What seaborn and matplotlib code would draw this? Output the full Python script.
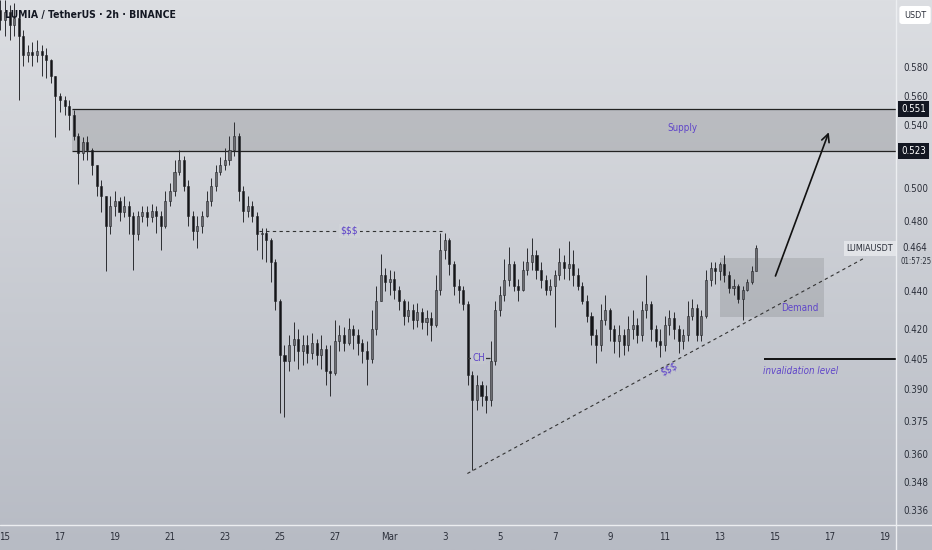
import matplotlib
matplotlib.use("Agg")
import numpy as np
import pandas as pd
import seaborn as sns
import matplotlib.pyplot as plt
import matplotlib.dates as mdates
from matplotlib.colors import LinearSegmentedColormap
from matplotlib.ticker import FixedLocator, FixedFormatter, NullLocator, NullFormatter
from matplotlib.transforms import blended_transform_factory

# ---------------- data (4h candles) ----------------
first_open = 0.622
closes = [
    0.615, 0.621, 0.611, 0.616, 0.603, 0.589, 0.591, 0.589, 0.592, 0.589,
    0.585, 0.574, 0.560, 0.557, 0.553, 0.547, 0.533, 0.522, 0.529, 0.524,
    0.514, 0.501, 0.495, 0.477, 0.489, 0.492, 0.485, 0.489, 0.483, 0.472,
    0.483, 0.485, 0.482, 0.486, 0.483, 0.477, 0.492, 0.498, 0.510, 0.517,
    0.501, 0.483, 0.474, 0.477, 0.483, 0.492, 0.501, 0.510, 0.514, 0.517,
    0.524, 0.533, 0.498, 0.486, 0.489, 0.483, 0.472, 0.473, 0.469, 0.456,
    0.435, 0.407, 0.404, 0.412, 0.415, 0.409, 0.412, 0.408, 0.413, 0.407,
    0.410, 0.399, 0.398, 0.414, 0.417, 0.413, 0.420, 0.417, 0.413, 0.409,
    0.405, 0.420, 0.435, 0.449, 0.445, 0.447, 0.441, 0.435, 0.427, 0.430,
    0.425, 0.429, 0.424, 0.426, 0.422, 0.441, 0.463, 0.469, 0.455, 0.443,
    0.441, 0.433, 0.397, 0.385, 0.392, 0.387, 0.385, 0.404, 0.430, 0.438,
    0.446, 0.455, 0.443, 0.441, 0.452, 0.456, 0.460, 0.452, 0.446, 0.441,
    0.443, 0.449, 0.456, 0.453, 0.455, 0.449, 0.443, 0.435, 0.427, 0.417,
    0.412, 0.425, 0.430, 0.420, 0.414, 0.417, 0.412, 0.420, 0.422, 0.417,
    0.430, 0.433, 0.420, 0.414, 0.412, 0.422, 0.426, 0.420, 0.414, 0.417,
    0.427, 0.431, 0.417, 0.427, 0.446, 0.453, 0.451, 0.455, 0.449, 0.442,
    0.443, 0.436, 0.441, 0.445, 0.451, 0.464,
]
highs = [
    0.630, 0.630, 0.626, 0.628, 0.618, 0.607, 0.596, 0.598, 0.600, 0.596,
    0.594, 0.586, 0.574, 0.562, 0.560, 0.557, 0.550, 0.535, 0.532, 0.533,
    0.525, 0.514, 0.505, 0.495, 0.495, 0.498, 0.494, 0.495, 0.492, 0.485,
    0.486, 0.489, 0.489, 0.490, 0.489, 0.486, 0.498, 0.503, 0.517, 0.524,
    0.520, 0.505, 0.486, 0.483, 0.486, 0.498, 0.506, 0.514, 0.519, 0.525,
    0.533, 0.542, 0.535, 0.501, 0.495, 0.492, 0.485, 0.476, 0.476, 0.470,
    0.458, 0.436, 0.412, 0.417, 0.424, 0.420, 0.417, 0.417, 0.418, 0.415,
    0.417, 0.412, 0.412, 0.425, 0.422, 0.421, 0.426, 0.422, 0.420, 0.415,
    0.414, 0.430, 0.443, 0.461, 0.453, 0.452, 0.451, 0.443, 0.436, 0.435,
    0.433, 0.434, 0.431, 0.430, 0.429, 0.449, 0.473, 0.473, 0.470, 0.457,
    0.447, 0.443, 0.435, 0.399, 0.397, 0.394, 0.392, 0.414, 0.435, 0.443,
    0.458, 0.465, 0.457, 0.447, 0.457, 0.464, 0.470, 0.463, 0.456, 0.449,
    0.447, 0.452, 0.464, 0.460, 0.468, 0.463, 0.453, 0.445, 0.438, 0.429,
    0.420, 0.433, 0.438, 0.431, 0.422, 0.422, 0.420, 0.427, 0.430, 0.426,
    0.435, 0.449, 0.435, 0.422, 0.420, 0.427, 0.430, 0.429, 0.422, 0.420,
    0.435, 0.436, 0.433, 0.430, 0.452, 0.456, 0.456, 0.456, 0.460, 0.451,
    0.447, 0.444, 0.443, 0.447, 0.454, 0.466,
]
lows = [
    0.607, 0.603, 0.600, 0.603, 0.557, 0.581, 0.584, 0.581, 0.584, 0.574,
    0.572, 0.569, 0.532, 0.549, 0.547, 0.537, 0.530, 0.502, 0.517, 0.517,
    0.508, 0.495, 0.485, 0.451, 0.472, 0.483, 0.480, 0.482, 0.472, 0.452,
    0.469, 0.479, 0.477, 0.479, 0.473, 0.463, 0.476, 0.489, 0.495, 0.508,
    0.498, 0.477, 0.469, 0.464, 0.473, 0.482, 0.489, 0.498, 0.508, 0.511,
    0.514, 0.520, 0.492, 0.479, 0.482, 0.479, 0.463, 0.458, 0.456, 0.445,
    0.430, 0.379, 0.377, 0.399, 0.404, 0.400, 0.402, 0.403, 0.405, 0.402,
    0.400, 0.392, 0.387, 0.397, 0.409, 0.409, 0.412, 0.410, 0.407, 0.403,
    0.392, 0.403, 0.417, 0.435, 0.440, 0.438, 0.436, 0.430, 0.422, 0.424,
    0.420, 0.421, 0.420, 0.417, 0.414, 0.421, 0.438, 0.458, 0.449, 0.438,
    0.434, 0.430, 0.392, 0.353, 0.380, 0.382, 0.379, 0.382, 0.402, 0.427,
    0.435, 0.443, 0.440, 0.435, 0.440, 0.449, 0.452, 0.447, 0.442, 0.438,
    0.438, 0.421, 0.446, 0.447, 0.446, 0.443, 0.441, 0.433, 0.424, 0.412,
    0.403, 0.409, 0.422, 0.414, 0.408, 0.406, 0.407, 0.409, 0.415, 0.413,
    0.414, 0.426, 0.414, 0.411, 0.406, 0.409, 0.417, 0.415, 0.408, 0.410,
    0.414, 0.425, 0.414, 0.414, 0.426, 0.443, 0.444, 0.446, 0.445, 0.439,
    0.438, 0.434, 0.425, 0.440, 0.444, 0.451,
]
first_candle = "2025-02-14 20:00"

tick_dates = ["2025-02-15", "2025-02-17", "2025-02-19", "2025-02-21", "2025-02-23",
              "2025-02-25", "2025-02-27", "2025-03-01", "2025-03-03", "2025-03-05",
              "2025-03-07", "2025-03-09", "2025-03-11", "2025-03-13", "2025-03-15",
              "2025-03-17", "2025-03-19"]
tick_labels = ["15", "17", "19", "21", "23", "25", "27", "Mar", "3", "5", "7",
               "9", "11", "13", "15", "17", "19"]
price_ticks = [0.580, 0.560, 0.540, 0.500, 0.480, 0.440, 0.420, 0.405,
               0.390, 0.375, 0.360, 0.348, 0.336]
price_tick_labels = ["0.580", "0.560", "0.540", "0.500", "0.480", "0.440", "0.420",
                     "0.405", "0.390", "0.375", "0.360", "0.348", "0.336"]

supply_low, supply_high = 0.523, 0.551
supply_start = "2025-02-17 10:40"
liq_level = 0.474
liq_span = ("2025-02-24 05:30", "2025-03-02 21:50")
liq_text_time = "2025-02-27 12:30"
ch_level = 0.4055
ch_span = ("2025-03-03 19:40", "2025-03-04 15:10")
ch_text_time = "2025-03-04 05:30"
trend_times = ["2025-03-03 19:40", "2025-03-18 07:30"]
trend_prices = [0.3516, 0.4589]
demand_span = ("2025-03-13 00:00", "2025-03-16 18:40")
demand_low, demand_high = 0.4263, 0.4584
arrow_times = ["2025-03-14 23:45", "2025-03-17 00:00"]
arrow_prices = [0.447, 0.537]
invalid_level = 0.405
invalid_start = "2025-03-14 15:00"
last_price = 0.464

# ---------------- styling ----------------
sns.set_theme(style="white")
plt.rcParams["font.family"] = ["DejaVu Sans"]
plt.rcParams["font.stretch"] = "condensed"
PURPLE = "#5f45c9"
DARK = "#2a2e39"

df = pd.DataFrame({
    "time": pd.date_range(first_candle, periods=len(closes), freq="4h"),
    "close": closes, "high": highs, "low": lows,
})
df["open"] = [first_open] + closes[:-1]
df["x"] = mdates.date2num(df["time"])
up = df["close"] >= df["open"]
body_lo = np.minimum(df["open"], df["close"])
body_hi = np.maximum(df["open"], df["close"])
body_col = np.where(up, "#6c6d72", "#141518")

d = lambda s: mdates.date2num(pd.Timestamp(s))

fig = plt.figure(figsize=(9.32, 5.5), dpi=100)
bg = fig.add_axes([0, 0, 1, 1], zorder=-5)
grad = np.linspace(0, 1, 256)[:, None]
bg.imshow(grad, aspect="auto", extent=[0, 1, 0, 1], origin="upper",
          cmap=LinearSegmentedColormap.from_list("bg", ["#dcdee2", "#b7bbc4"]))
bg.set_axis_off()

ax = fig.add_axes([0, 25 / 550, 896 / 932, 525 / 550])
ax.set_facecolor("none")
ax.set_yscale("log")
ax.set_ylim(0.330, 0.630)
xmin, xmax = d("2025-02-14 19:40"), d("2025-03-19 09:50")
ax.set_xlim(xmin, xmax)
for s in ax.spines.values():
    s.set_visible(False)

# candles
ax.vlines(df["x"], df["low"], df["high"], colors="#2c2d31", lw=0.7, zorder=3)
ax.bar(df["x"], body_hi - body_lo, bottom=body_lo, width=0.075, color=body_col,
       edgecolor="#222327", linewidth=0.4, zorder=4)

# supply zone
ax.fill_between([d(supply_start), xmax], supply_low, supply_high,
                color="#000000", alpha=0.12, lw=0, zorder=1)
ax.hlines([supply_low, supply_high], d(supply_start), xmax, colors="#222222", lw=0.9, zorder=2)
ax.text(d("2025-03-11 15:20"), 0.538, "Supply", color=PURPLE, fontsize=7,
        ha="center", va="center")

# liquidity line $$$
ax.hlines(liq_level, d(liq_span[0]), d(liq_span[1]), colors="#333333", lw=0.8,
          linestyles=(0, (3, 3)), zorder=2)
ax.text(d(liq_text_time), liq_level, "$$$", color=PURPLE, fontsize=7.5, ha="center",
        va="center", zorder=5,
        bbox=dict(boxstyle="square,pad=0.15", fc="#cfd2d7", ec="none"))

# CH
ax.hlines(ch_level, d(ch_span[0]), d(ch_span[1]), colors="#333333", lw=0.9, zorder=5)
ax.text(d(ch_text_time), ch_level, "CH", color=PURPLE, fontsize=7, ha="center",
        va="center", zorder=6,
        bbox=dict(boxstyle="square,pad=0.15", fc="#c6c9cf", ec="none"))

# trend line
ax.plot([d(t) for t in trend_times], trend_prices, color="#333333", lw=0.8,
        ls=(0, (3, 3)), zorder=2)
ax.text(d("2025-03-11 03:50"), 0.400, "$$$", color=PURPLE, fontsize=7.5,
        ha="center", va="center", rotation=28, rotation_mode="anchor")

# demand zone
ax.fill_between([d(demand_span[0]), d(demand_span[1])], demand_low, demand_high,
                color="#000000", alpha=0.10, lw=0, zorder=1)
ax.text(d("2025-03-15 21:40"), 0.431, "Demand", color=PURPLE, fontsize=7,
        ha="center", va="center")

# arrow
ax.annotate("", xy=(d(arrow_times[1]), arrow_prices[1]),
            xytext=(d(arrow_times[0]), arrow_prices[0]),
            arrowprops=dict(arrowstyle="->", color="#111111", lw=1.2, mutation_scale=14),
            zorder=6)

# invalidation
ax.hlines(invalid_level, d(invalid_start), xmax, colors="#111111", lw=1.4, zorder=3)
ax.text(d("2025-03-15 22:30"), 0.399, "invalidation level", color=PURPLE,
        fontsize=7, style="italic", ha="center", va="center")

# axes ticks
ax.yaxis.tick_right()
ax.yaxis.set_major_locator(FixedLocator(price_ticks))
ax.yaxis.set_major_formatter(FixedFormatter(price_tick_labels))
ax.yaxis.set_minor_locator(NullLocator())
ax.yaxis.set_minor_formatter(NullFormatter())
ax.xaxis.set_major_locator(FixedLocator([d(t) for t in tick_dates]))
ax.xaxis.set_major_formatter(FixedFormatter(tick_labels))
ax.tick_params(axis="y", length=0, pad=5, labelsize=7, labelcolor=DARK)
ax.tick_params(axis="x", length=0, pad=5, labelsize=7, labelcolor=DARK)
ax.grid(False)

tr = blended_transform_factory(ax.transAxes, ax.transData)
for lv in (supply_high, supply_low):
    ax.text(1.006, lv, f"{lv:.3f}", transform=tr, ha="left", va="center", color="white",
            fontsize=7, clip_on=False, zorder=10,
            bbox=dict(boxstyle="square,pad=0.3", fc="#131722", ec="none"))
ax.text(0.997, last_price, "LUMIAUSDT", transform=tr, ha="right", va="center",
        color=DARK, fontsize=6.5, clip_on=False, zorder=10,
        bbox=dict(boxstyle="square,pad=0.3", fc="#e2e4e8", ec="none"))
ax.text(1.0075, last_price, f"{last_price:.3f}", transform=tr, ha="left", va="center",
        color=DARK, fontsize=7, clip_on=False, zorder=10)
ax.text(1.005, 0.4565, "01:57:25", transform=tr, ha="left", va="center",
        color=DARK, fontsize=5.6, clip_on=False, zorder=10)

# panel separators
fig.add_artist(plt.Line2D([896 / 932, 896 / 932], [0, 1], color="#eceef1", lw=1,
                          transform=fig.transFigure))
fig.add_artist(plt.Line2D([0, 1], [25 / 550, 25 / 550], color="#eceef1", lw=1,
                          transform=fig.transFigure))

# title and currency box
fig.text(5 / 932, 1 - 15 / 550, "LUMIA / TetherUS · 2h · BINANCE", ha="left",
         va="center", fontsize=7.5, color="#131722", fontweight="semibold")
fig.text(915 / 932, 1 - 15 / 550, "USDT", ha="center", va="center", fontsize=6.5,
         color=DARK, bbox=dict(boxstyle="round,pad=0.5,rounding_size=0.3", fc="white", ec="none"))

fig.savefig("out.png", dpi=100)
